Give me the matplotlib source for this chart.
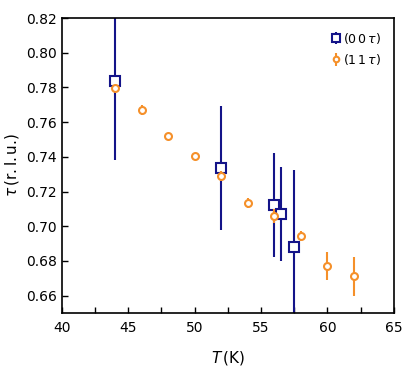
import numpy as np
import matplotlib.pyplot as plt

# (0 0 tau) peak
T_00 = [44, 52, 56, 56.5, 57.5]
tau_00 = [0.784, 0.7337, 0.7124, 0.7072, 0.6882]
err_00 = [0.046, 0.0357, 0.030, 0.027, 0.044]

# (1 1 tau) peak
T_11 = [44, 46, 48, 50, 52, 54, 56, 58, 60, 62]
tau_11 = [0.7797, 0.767, 0.752, 0.7406, 0.729, 0.7135, 0.706, 0.6945, 0.677, 0.671]
err_11 = [0.002, 0.003, 0.001, 0.001, 0.003, 0.003, 0.004, 0.003, 0.008, 0.011]

blue = '#141489'
orange = '#f5902a'

fig = plt.figure(figsize=(4.15, 3.69), dpi=100)
ax = fig.add_axes([0.149, 0.152, 0.800, 0.799])

ax.errorbar(T_00, tau_00, yerr=err_00, fmt='s', ms=6.5, mfc='white', mec=blue,
            mew=1.5, color=blue, elinewidth=1.5, capsize=0, label=r'(0$\,$0$\,\tau$)', zorder=2)
ax.errorbar(T_11, tau_11, yerr=err_11, fmt='o', ms=5, mfc='white', mec=orange,
            mew=1.5, color=orange, elinewidth=1.5, capsize=0, label=r'(1$\,$1$\,\tau$)', zorder=3)

ax.set_xlim(40, 65)
ax.set_ylim(0.65, 0.82)
ax.set_xticks([40, 45, 50, 55, 60, 65])
ax.set_xticks(np.arange(42.5, 65, 5), minor=True)
ax.set_yticks(np.arange(0.66, 0.821, 0.02))
ax.tick_params(which='both', direction='in', length=4, width=1, labelsize=10)
ax.tick_params(axis='x', pad=6)
for s in ax.spines.values():
    s.set_linewidth(1.2)

ax.set_xlabel(r'$T\,$(K)', fontsize=11, labelpad=10)
ax.set_ylabel(r'$\tau\,$(r.$\,$l.$\,$u.)', fontsize=11, labelpad=4)

ax.legend(loc='upper right', frameon=False, fontsize=9, markerscale=0.8,
          handlelength=0.6, handletextpad=0.3, borderaxespad=0.6, labelspacing=0.5)

fig.savefig('out.png', dpi=100)
